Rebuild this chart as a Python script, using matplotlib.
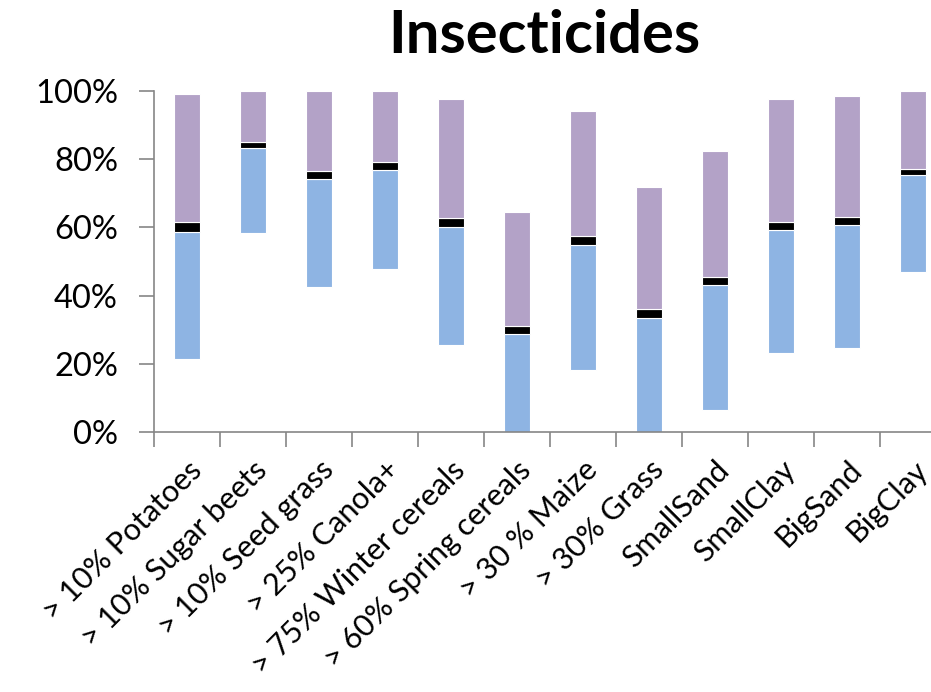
import numpy as np
import matplotlib
matplotlib.use('Agg')
import matplotlib.pyplot as plt

# data (percent)
categories = ['> 10% Potatoes', '> 10% Sugar beets', '> 10% Seed grass',
              '> 25% Canola+', '> 75% Winter cereals', '> 60% Spring cereals',
              '> 30 % Maize', '> 30% Grass', 'SmallSand', 'SmallClay',
              'BigSand', 'BigClay']
low = [21.4, 58.5, 42.4, 47.8, 25.4, 0.0, 18.3, 0.0, 6.5, 23.3, 24.7, 46.8]
mid_lo = [58.7, 83.4, 74.1, 76.9, 60.2, 28.8, 54.8, 33.5, 43.1, 59.1, 60.6, 75.5]
mid_hi = [61.6, 85.1, 76.5, 79.1, 62.7, 31.0, 57.4, 36.0, 45.6, 61.6, 63.0, 77.2]
high = [99.0, 100.0, 100.0, 100.0, 97.6, 64.4, 94.0, 71.9, 82.3, 97.6, 98.6, 100.0]

plt.rcParams['font.family'] = ['Lato', 'DejaVu Sans']

low = np.array(low)
mid_lo = np.array(mid_lo)
mid_hi = np.array(mid_hi)
high = np.array(high)
x = np.arange(len(categories))

fig = plt.figure(figsize=(9.31, 6.92), dpi=100)
ax = fig.add_axes([154 / 931, 1 - 432 / 692, 792 / 931, 341 / 692])

w = 0.4
ax.bar(x, mid_lo - low, bottom=low, width=w, color='#8EB4E3',
       edgecolor='white', linewidth=0.8)
ax.bar(x, mid_hi - mid_lo, bottom=mid_lo, width=w, color='black',
       edgecolor='white', linewidth=0.8)
ax.bar(x, high - mid_hi, bottom=mid_hi, width=w, color='#B3A2C7',
       edgecolor='white', linewidth=0.8)

# axes styling
ax.set_xlim(-0.5, len(categories) - 0.5)
ax.set_ylim(0, 100)
ax.set_yticks(np.arange(0, 101, 20))
ax.set_yticklabels(['%d%%' % v for v in range(0, 101, 20)], fontsize=23.5)
ax.set_xticks(x)
ax.set_xticklabels(categories, rotation=45, ha='right', va='top',
                   rotation_mode='anchor', fontsize=22)
ax.set_xticks(np.arange(-0.5, len(categories)), minor=True)
ax.tick_params(axis='x', which='major', length=0, pad=17)
ax.tick_params(axis='x', which='minor', length=11, color='#868686', width=1.2)
ax.tick_params(axis='y', length=11, color='#868686', width=1.2, pad=15)
for s in ('top', 'right'):
    ax.spines[s].set_visible(False)
for s in ('left', 'bottom'):
    ax.spines[s].set_color('#868686')
    ax.spines[s].set_linewidth(1.2)

fig.text(544 / 931, 1 - 36 / 692, 'Insecticides', ha='center', va='center',
         fontsize=43, fontweight='bold')

fig.savefig('out.png', dpi=100)
